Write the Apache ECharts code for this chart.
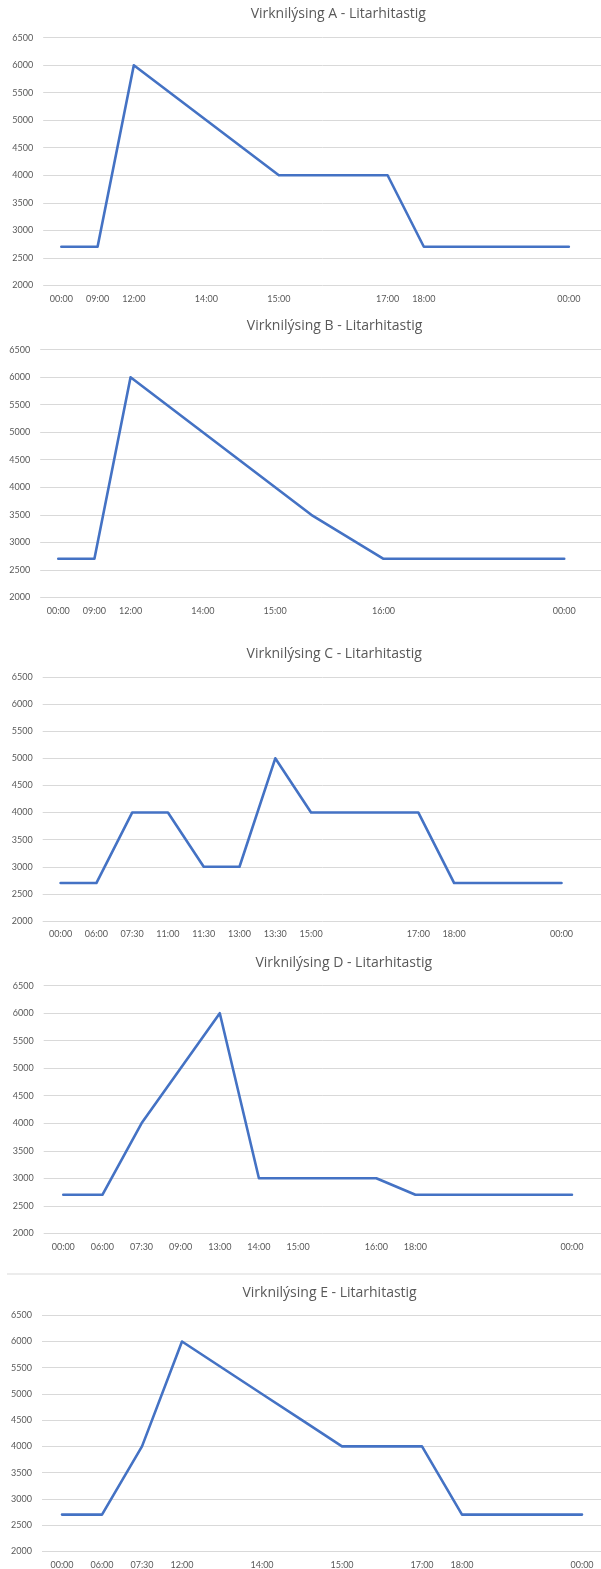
<!DOCTYPE html>
<html>
<head>
<meta charset="utf-8">
<script src="https://cdn.jsdelivr.net/npm/echarts@6/dist/echarts.min.js"></script>
<style>
  html, body { margin: 0; padding: 0; background: #ffffff; }
  #chart { width: 601px; height: 1569px; }
</style>
</head>
<body>
<div id="chart"></div>
<script>
// ---- Data ----
const titles = [
  'Virknilýsing A - Litarhitastig',
  'Virknilýsing B - Litarhitastig',
  'Virknilýsing C - Litarhitastig',
  'Virknilýsing D - Litarhitastig',
  'Virknilýsing E - Litarhitastig'
];

const catsA = ['00:00','09:00','12:00','','14:00','','15:00','','','17:00','18:00','','','','00:00'];
const valsA = [2700,2700,6000,5500,5000,4500,4000,4000,4000,4000,2700,2700,2700,2700,2700];

const catsB = ['00:00','09:00','12:00','','14:00','','15:00','','','16:00','','','','','00:00'];
const valsB = [2700,2700,6000,5500,5000,4500,4000,3500,3100,2700,2700,2700,2700,2700,2700];

const catsC = ['00:00','06:00','07:30','11:00','11:30','13:00','13:30','15:00','','','17:00','18:00','','','00:00'];
const valsC = [2700,2700,4000,4000,3000,3000,5000,4000,4000,4000,4000,2700,2700,2700,2700];

const catsD = ['00:00','06:00','07:30','09:00','13:00','14:00','15:00','','16:00','18:00','','','','00:00'];
const valsD = [2700,2700,4000,5000,6000,3000,3000,3000,3000,2700,2700,2700,2700,2700];

const catsE = ['00:00','06:00','07:30','12:00','','14:00','','15:00','','17:00','18:00','','','00:00'];
const valsE = [2700,2700,4000,6000,5500,5000,4500,4000,4000,4000,2700,2700,2700,2700];

const yMin = 2000, yMax = 6500, yStep = 500;

// ---- Layout (pixels) ----
const panels = [
  { cats: catsA, vals: valsA, left: 43.2, top: 37.7,  bottom: 285.3,  step: 36.25, tx: 338.3, ty: 14.5 },
  { cats: catsB, vals: valsB, left: 40.2, top: 349.7, bottom: 597.3,  step: 36.14, tx: 334.6, ty: 325.7 },
  { cats: catsC, vals: valsC, left: 42.7, top: 677,   bottom: 921,    step: 35.78, tx: 334.2, ty: 654 },
  { cats: catsD, vals: valsD, left: 43.7, top: 985.7, bottom: 1233.3, step: 39.13, tx: 343.8, ty: 962.7 },
  { cats: catsE, vals: valsE, left: 42.0, top: 1315.3,bottom: 1551.3, step: 40.0,  tx: 329.6, ty: 1292.7 }
];

const W = 601;
const textColor = '#595959';
const font = 'Lato, "Open Sans", sans-serif';
const titleFont = '"Open Sans", Lato, sans-serif';

const option = {
  animation: false,
  backgroundColor: '#ffffff',
  title: [], grid: [], xAxis: [], yAxis: [], series: [],
  graphic: [{
    type: 'line', shape: { x1: 7, y1: 1274, x2: 601, y2: 1274 },
    style: { stroke: '#D9D9D9', lineWidth: 1 }, silent: true
  }]
};

panels.forEach((p, i) => {
  // extend categories (blank) so the plot area reaches the right edge, like the cropped source
  const n = Math.max(p.cats.length, Math.ceil((W - p.left) / p.step));
  const cats = p.cats.slice();
  while (cats.length < n) cats.push('');
  option.title.push({
    text: titles[i], left: p.tx, top: p.ty, padding: 0,
    textAlign: 'center', textVerticalAlign: 'middle',
    textStyle: { fontFamily: titleFont, fontSize: 14, fontWeight: 'normal', color: textColor }
  });
  option.grid.push({
    left: p.left, top: p.top, width: n * p.step, height: p.bottom - p.top,
    containLabel: false, outerBoundsMode: 'none'
  });
  option.xAxis.push({
    type: 'category', gridIndex: i, data: cats, boundaryGap: true,
    axisLine: { show: false }, axisTick: { show: false },
    axisLabel: { interval: 0, margin: 9, color: textColor, fontFamily: font, fontSize: 9 },
    splitLine: { show: false }
  });
  option.yAxis.push({
    type: 'value', gridIndex: i, min: yMin, max: yMax, interval: yStep,
    axisLine: { show: false }, axisTick: { show: false },
    axisLabel: { margin: 10, color: textColor, fontFamily: font, fontSize: 9,
                 formatter: v => String(v) },
    splitLine: { show: true, lineStyle: { color: '#D9D9D9', width: 1 } }
  });
  option.series.push({
    type: 'line', xAxisIndex: i, yAxisIndex: i, data: p.vals,
    symbol: 'none', silent: true,
    lineStyle: { color: '#4472C4', width: 2.6, cap: 'round', join: 'round' }
  });
});

const chart = echarts.init(document.getElementById('chart'), null, { renderer: 'canvas' });
chart.setOption(option);
</script>
</body>
</html>
